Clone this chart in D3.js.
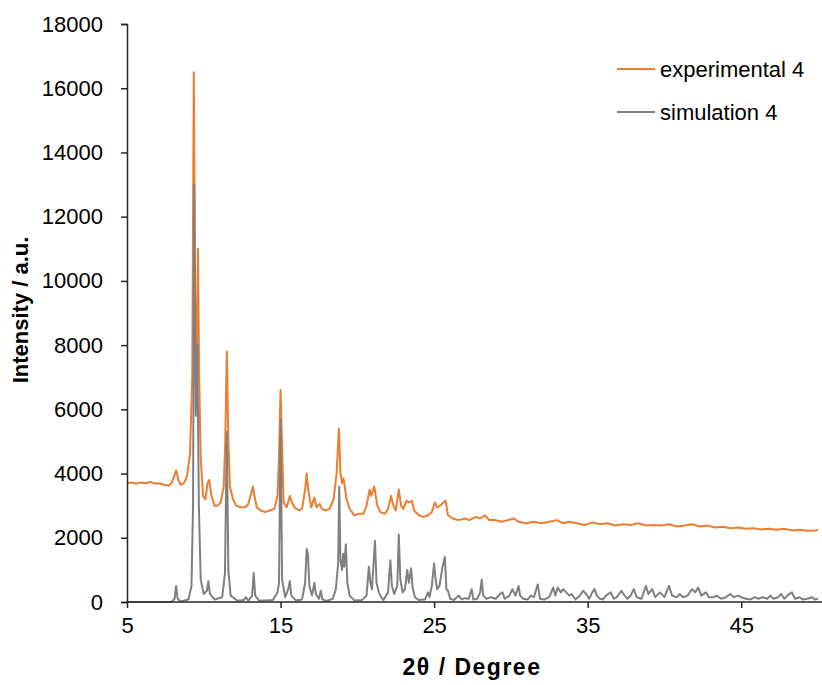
<!DOCTYPE html>
<html>
<head>
<meta charset="utf-8">
<script src="https://cdn.jsdelivr.net/npm/d3@7"></script>
<style>
  body { margin: 0; background: #fff; }
  text { font-family: "Liberation Sans", Arial, sans-serif; fill: #000; }
</style>
</head>
<body>
<div id="chart"></div>
<script>
// experimental pattern, [2theta, intensity]
var expPoints = [
  [5.0,3700],[5.3,3720],[5.6,3680],[5.9,3720],[6.2,3700],[6.5,3740],[6.8,3690],[7.1,3700],[7.4,3650],[7.7,3620],
  [7.9,3700],[8.1,3950],[8.2,4100],[8.35,3800],[8.5,3650],[8.7,3700],[8.9,3900],[9.1,4600],[9.25,7000],[9.35,16500],
  [9.45,9000],[9.55,8000],[9.62,11000],[9.7,7000],[9.8,4500],[9.95,3300],[10.1,3200],[10.25,3700],[10.35,3800],[10.5,3300],
  [10.7,3000],[10.9,3000],[11.1,3100],[11.3,3600],[11.4,5000],[11.5,7800],[11.6,5000],[11.7,3600],[11.9,3200],[12.1,3000],
  [12.4,2950],[12.7,2950],[12.9,3050],[13.1,3400],[13.2,3600],[13.3,3300],[13.45,2950],[13.7,2850],[14.0,2800],[14.3,2850],
  [14.6,2900],[14.8,3300],[14.9,4500],[15.0,6600],[15.1,4800],[15.2,3100],[15.4,2950],[15.6,3300],[15.7,3150],[15.9,2950],
  [16.2,2850],[16.4,2900],[16.6,3500],[16.7,4000],[16.8,3500],[17.0,2950],[17.2,3250],[17.35,2950],[17.55,3050],[17.7,2900],
  [17.9,2850],[18.2,2900],[18.45,3200],[18.65,4000],[18.8,5400],[18.9,4000],[19.0,3700],[19.1,3850],[19.3,3200],[19.5,2900],
  [19.8,2700],[20.1,2750],[20.4,2750],[20.6,3000],[20.8,3500],[20.9,3300],[21.1,3600],[21.3,3000],[21.5,2800],[21.8,2750],
  [22.0,2900],[22.2,3300],[22.35,3000],[22.5,2850],[22.7,3500],[22.85,3000],[23.0,2900],[23.2,3150],[23.4,3100],[23.55,3150],
  [23.7,2850],[24.0,2700],[24.3,2650],[24.6,2700],[24.85,2800],[25.05,3100],[25.2,2950],[25.4,3000],[25.6,3100],[25.75,3150],
  [25.9,2700],[26.2,2600],[26.6,2550],[27.0,2600],[27.3,2550],[27.7,2650],[28.0,2600],[28.3,2700],[28.6,2550],[29.0,2550],
  [29.4,2500],[29.8,2550],[30.2,2600],[30.5,2500],[31.0,2450],[31.5,2500],[32.0,2450],[32.5,2500],[33.0,2550],[33.4,2450],
  [33.8,2500],[34.3,2450],[34.8,2400],[35.3,2480],[35.8,2420],[36.3,2450],[36.8,2380],[37.3,2420],[37.8,2400],[38.3,2450],
  [38.8,2380],[39.3,2400],[39.8,2380],[40.3,2420],[40.8,2350],[41.3,2380],[41.8,2420],[42.3,2350],[42.8,2380],[43.3,2320],
  [43.8,2340],[44.3,2300],[44.8,2320],[45.3,2280],[45.8,2300],[46.3,2260],[46.8,2280],[47.3,2250],[47.8,2280],[48.3,2230],
  [48.8,2250],[49.3,2220],[49.8,2230],[50.0,2240]
];

// simulated pattern, [2theta, intensity]
var simPoints = [
  [5.0,0],[7.9,0],[8.1,100],[8.2,500],[8.3,100],[8.5,20],[9.0,80],[9.2,500],[9.3,3000],[9.38,13000],
  [9.48,5800],[9.58,8000],[9.68,3000],[9.8,700],[10.0,250],[10.2,350],[10.3,650],[10.4,250],[10.7,80],[11.2,150],
  [11.38,900],[11.5,5300],[11.6,1000],[11.75,200],[12.2,40],[12.6,60],[12.75,150],[12.9,40],[13.15,200],[13.25,900],
  [13.35,200],[13.6,40],[14.5,60],[14.8,300],[14.9,600],[15.0,5700],[15.1,700],[15.3,150],[15.5,400],[15.6,650],
  [15.7,200],[16.0,50],[16.4,80],[16.6,600],[16.7,1650],[16.78,1500],[16.88,500],[17.05,200],[17.2,600],[17.3,250],
  [17.5,100],[17.62,350],[17.72,80],[18.0,30],[18.4,100],[18.6,400],[18.75,1200],[18.82,3600],[18.9,1300],[19.0,1000],
  [19.08,1500],[19.15,1100],[19.25,1800],[19.35,600],[19.5,200],[19.8,50],[20.3,60],[20.6,200],[20.75,1100],[20.85,600],
  [20.95,400],[21.15,1900],[21.25,600],[21.4,300],[21.55,150],[21.7,60],[22.0,300],[22.15,1300],[22.25,500],[22.4,250],
  [22.6,500],[22.7,2100],[22.8,700],[22.95,300],[23.1,400],[23.25,1000],[23.35,600],[23.5,1050],[23.6,450],[23.75,150],
  [24.0,60],[24.4,80],[24.6,300],[24.7,150],[24.85,500],[25.0,1200],[25.1,700],[25.2,400],[25.35,500],[25.55,1100],
  [25.7,1400],[25.8,400],[25.9,350],[26.05,100],[26.3,60],[26.6,200],[26.8,80],[27.0,120],[27.25,100],[27.45,400],
  [27.55,80],[27.8,100],[28.0,300],[28.1,700],[28.2,200],[28.4,100],[28.7,150],[29.0,100],[29.3,250],[29.45,300],
  [29.6,100],[29.9,200],[30.1,400],[30.3,200],[30.5,500],[30.6,200],[30.8,100],[31.1,80],[31.3,200],[31.5,150],
  [31.75,550],[31.9,100],[32.2,80],[32.5,150],[32.75,450],[32.9,200],[33.05,450],[33.25,300],[33.4,400],[33.6,300],
  [33.8,200],[33.95,250],[34.2,80],[34.5,200],[34.7,350],[34.9,250],[35.1,100],[35.3,300],[35.45,400],[35.6,200],
  [35.8,100],[36.0,80],[36.2,200],[36.5,300],[36.7,100],[36.9,150],[37.2,350],[37.4,200],[37.6,100],[37.8,200],
  [38.0,400],[38.2,150],[38.5,100],[38.8,500],[38.95,250],[39.2,400],[39.4,150],[39.7,300],[40.0,150],[40.3,500],
  [40.5,200],[40.8,150],[41.0,250],[41.2,150],[41.5,200],[41.8,400],[42.0,300],[42.2,450],[42.4,200],[42.7,300],
  [42.9,150],[43.2,150],[43.4,200],[43.7,100],[44.0,150],[44.3,250],[44.5,150],[44.8,200],[45.0,150],[45.3,100],
  [45.6,80],[45.9,150],[46.1,100],[46.4,150],[46.7,100],[46.9,200],[47.1,100],[47.4,150],[47.6,250],[47.8,100],
  [48.0,200],[48.3,300],[48.5,100],[48.8,150],[49.0,80],[49.3,100],[49.6,150],[49.8,80],[50.0,100]
];

var xTicks = [5, 15, 25, 35, 45];
var yTicks = [0, 2000, 4000, 6000, 8000, 10000, 12000, 14000, 16000, 18000];
var seriesNames = ["experimental 4", "simulation 4"];
var seriesColors = ["#ED7D31", "#808080"];

var w = 822, h = 685;
var margin = {top: 24, right: 4, bottom: 83, left: 127};

var svg = d3.select("#chart").append("svg")
  .attr("width", w).attr("height", h);

var x = d3.scaleLinear().domain([5, 50]).range([margin.left, w - margin.right]);
var y = d3.scaleLinear().domain([0, 18000]).range([h - margin.bottom, margin.top]);

var line = d3.line()
  .x(function(d) { return x(d[0]); })
  .y(function(d) { return y(d[1]); });

[expPoints, simPoints].forEach(function(pts, i) {
  svg.append("path").datum(pts)
    .attr("d", line)
    .attr("fill", "none")
    .attr("stroke", seriesColors[i])
    .attr("stroke-width", 2)
    .attr("stroke-linejoin", "round");
});

var xAxis = svg.append("g")
  .attr("transform", "translate(0," + y(0) + ")")
  .call(d3.axisBottom(x).tickValues(xTicks).tickSize(6).tickPadding(9).tickFormat(d3.format("d")));
var yAxis = svg.append("g")
  .attr("transform", "translate(" + x(5) + ",0)")
  .call(d3.axisLeft(y).tickValues(yTicks).tickSize(6).tickPadding(18).tickFormat(d3.format("d")));

[xAxis, yAxis].forEach(function(a) {
  a.select(".domain").attr("stroke", "#262626").attr("stroke-width", 1.5);
  a.selectAll(".tick line").attr("stroke", "#262626").attr("stroke-width", 1.5);
  a.selectAll(".tick text").style("font-size", "22px").attr("fill", "#000");
});
xAxis.select(".domain").attr("d", "M" + x(5) + ",0H" + w);

svg.append("text")
  .attr("x", 472).attr("y", 675)
  .attr("text-anchor", "middle")
  .style("font-size", "23px").style("font-weight", "bold")
  .style("letter-spacing", "1.5px")
  .text("2θ / Degree");

svg.append("text")
  .attr("transform", "translate(28,310) rotate(-90)")
  .attr("text-anchor", "middle")
  .style("font-size", "22px").style("font-weight", "bold")
  .text("Intensity / a.u.");

var legend = svg.append("g").attr("transform", "translate(617,69)");
seriesNames.forEach(function(name, i) {
  var g = legend.append("g").attr("transform", "translate(0," + i * 43 + ")");
  g.append("line").attr("x1", 0).attr("x2", 38).attr("y1", 0).attr("y2", 0)
    .attr("stroke", seriesColors[i]).attr("stroke-width", 2);
  g.append("text").attr("x", 43).attr("y", 8)
    .style("font-size", "22px").text(name);
});
</script>
</body>
</html>
